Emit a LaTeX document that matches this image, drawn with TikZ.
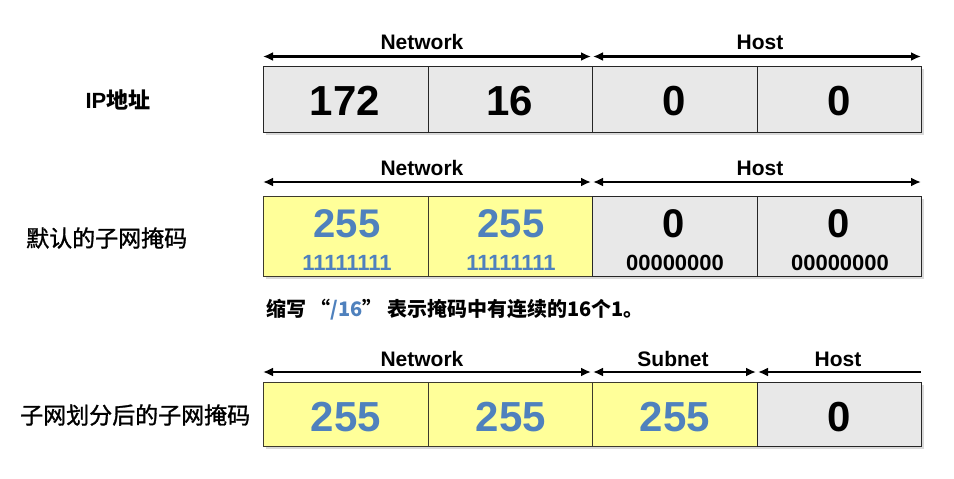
\documentclass[tikz,border=0pt]{standalone}
\usepackage{fontspec}
\setmainfont{Liberation Sans}
\newfontfamily\cjk{Noto Sans CJK SC}
\newfontfamily\cjkfb{Noto Sans CJK SC}[FakeBold=1.2]
\usetikzlibrary{arrows.meta,shadows}
\definecolor{cellgrey}{HTML}{E8E8E8}
\definecolor{cellyellow}{HTML}{FFFF99}
\definecolor{maskblue}{HTML}{4F81BD}
\begin{document}
\begin{tikzpicture}[x=1pt,y=-1pt,
  cell/.style={draw=black!85, line width=1pt, anchor=north west, inner sep=0pt,
    minimum width=164.5pt, drop shadow={shadow xshift=2pt, shadow yshift=-2pt, fill=black!25, opacity=0.6}},
  greycell/.style={cell, fill=cellgrey},
  yellowcell/.style={cell, fill=cellyellow, draw=black!75!olive},
  bignum/.style={font=\bfseries\fontsize{42}{48}\selectfont, anchor=base, inner sep=0pt},
  midnum/.style={font=\bfseries\fontsize{40}{46}\selectfont, anchor=base, inner sep=0pt},
  bits/.style={font=\bfseries\fontsize{22}{26}\selectfont, anchor=base, inner sep=0pt},
  partlabel/.style={font=\bfseries\fontsize{21}{25}\selectfont, anchor=base, inner sep=0pt},
  rowlabel/.style={font=\cjkfb\fontsize{23}{27}\selectfont, inner sep=0pt},
  span/.style={line width=2.6pt, {Latex[length=10pt,width=9pt]}-{Latex[length=10pt,width=9pt]}},
  lspan/.style={line width=2.6pt, {Latex[length=10pt,width=9pt]}-}
]
\useasboundingbox (0,0) rectangle (954,479);

% ---------- Row 1: IP address ----------
\node[inner sep=0pt, font=\fontsize{22}{26}\selectfont] (l1) at (118,100) {\bfseries IP{\cjk\bfseries 地址}};
\node[greycell, minimum height=66pt] (a1) at (263,66) {};
\node[greycell, minimum height=66pt] (a2) at (427.5,66) {};
\node[greycell, minimum height=66pt] (a3) at (592,66) {};
\node[greycell, minimum height=66pt] (a4) at (756.5,66) {};
\node[bignum] (ta1) at (345,115) {172};
\node[bignum] (ta2) at (510,115) {16};
\node[bignum] (ta3) at (674,115) {0};
\node[bignum] (ta4) at (839,115) {0};
\coordinate (n1a) at (263,56.5);
\coordinate (n1b) at (591,56.5);
\coordinate (h1a) at (593,56.5);
\coordinate (h1b) at (921,56.5);
\draw[span] (n1a) -- (n1b);
\draw[span] (h1a) -- (h1b);
\node[partlabel] (p1n) at (422,49) {Network};
\node[partlabel] (p1h) at (760,49) {Host};

% ---------- Row 2: default mask ----------
\node[rowlabel, anchor=west] (l2) at (26,238) {默认的子网掩码};
\node[yellowcell, minimum height=80pt] (b1) at (263,196) {};
\node[yellowcell, minimum height=80pt] (b2) at (427.5,196) {};
\node[greycell, minimum height=80pt] (b3) at (592,196) {};
\node[greycell, minimum height=80pt] (b4) at (756.5,196) {};
\node[midnum, text=maskblue] (tb1) at (347,237) {255};
\node[midnum, text=maskblue] (tb2) at (511,237) {255};
\node[midnum] (tb3) at (674,237) {0};
\node[midnum] (tb4) at (839,237) {0};
\node[bits, text=maskblue] (sb1) at (347,270) {11111111};
\node[bits, text=maskblue] (sb2) at (511,270) {11111111};
\node[bits] (sb3) at (675,270) {00000000};
\node[bits] (sb4) at (840,270) {00000000};
\coordinate (n2a) at (263,182);
\coordinate (n2b) at (591,182);
\coordinate (h2a) at (593,182);
\coordinate (h2b) at (921,182);
\draw[span] (n2a) -- (n2b);
\draw[span] (h2a) -- (h2b);
\node[partlabel] (p2n) at (422,175.5) {Network};
\node[partlabel] (p2h) at (760,175.5) {Host};

% ---------- caption ----------
\node[font=\cjk\bfseries\fontsize{20}{24}\selectfont, anchor=west, inner sep=0pt] (cap) at (266,310)
  {缩写 “\textcolor{maskblue}{/16}” 表示掩码中有连续的16个1。};

% ---------- Row 3: subnetted mask ----------
\node[rowlabel, anchor=west] (l3) at (20,415) {子网划分后的子网掩码};
\node[yellowcell, minimum height=64pt] (c1) at (263,382) {};
\node[yellowcell, minimum height=64pt] (c2) at (427.5,382) {};
\node[yellowcell, minimum height=64pt] (c3) at (592,382) {};
\node[greycell, minimum height=64pt] (c4) at (756.5,382) {};
\node[bignum, text=maskblue] (tc1) at (346,431) {255};
\node[bignum, text=maskblue] (tc2) at (511,431) {255};
\node[bignum, text=maskblue] (tc3) at (675,431) {255};
\node[bignum] (tc4) at (839,431) {0};
\coordinate (n3a) at (263,372);
\coordinate (n3b) at (591,372);
\coordinate (s3a) at (593,372);
\coordinate (s3b) at (756,372);
\coordinate (h3a) at (758,372);
\coordinate (h3b) at (921,372);
\draw[span] (n3a) -- (n3b);
\draw[span] (s3a) -- (s3b);
\draw[lspan] (h3a) -- (h3b);
\node[partlabel] (p3n) at (422,366) {Network};
\node[partlabel] (p3s) at (673,366) {Subnet};
\node[partlabel] (p3h) at (838,366) {Host};
\end{tikzpicture}
\end{document}
